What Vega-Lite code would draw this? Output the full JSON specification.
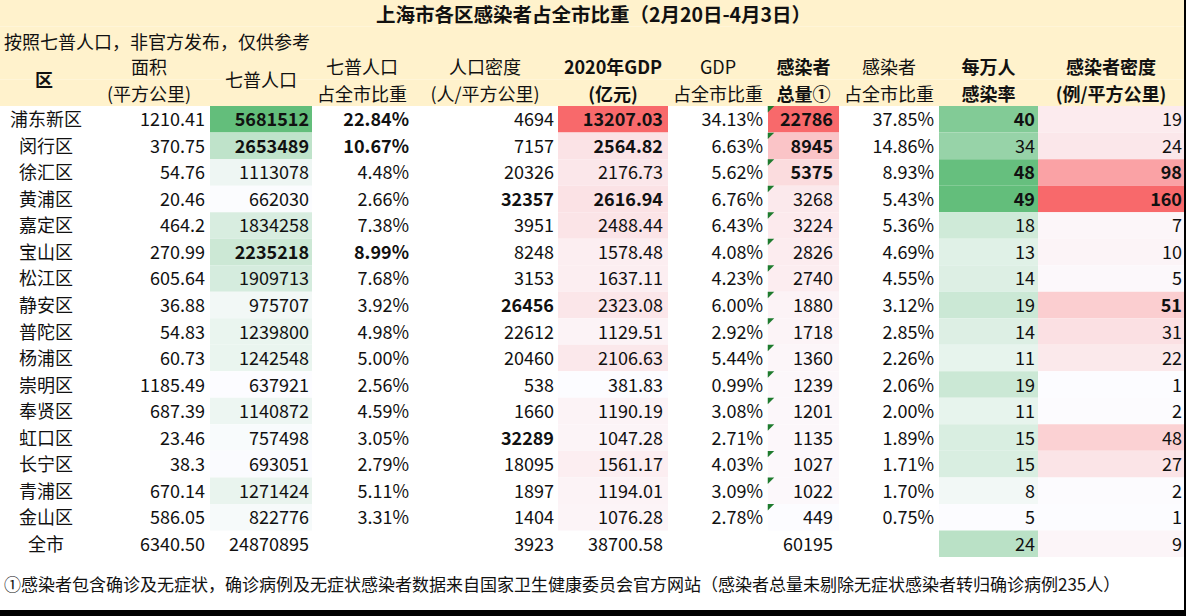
{
"$schema": "https://vega.github.io/schema/vega-lite/v6.json",
"background": "black",
"padding": {"left": 0, "top": 0, "right": 2, "bottom": 6},
"spacing": 0,
"bounds": "flush",
"resolve": {"scale": {"color": "independent", "y": "independent"}},
"config": {"view": {"stroke": null, "fill": "white"}, "text": {"font": "Noto Sans CJK SC", "fontSize": 18, "color": "#111"}},
"datasets": {
"d": [
{"区":"浦东新区","级别":"区","面积":"1210.41","七普人口":5681512,"七普占比":0.2284,"人口密度":4694,"GDP":13207.03,"GDP占比":0.3413,"感染者":22786,"感染者占比":0.3785,"每万人感染率":40,"感染者密度":19},
{"区":"闵行区","级别":"区","面积":"370.75","七普人口":2653489,"七普占比":0.1067,"人口密度":7157,"GDP":2564.82,"GDP占比":0.0663,"感染者":8945,"感染者占比":0.1486,"每万人感染率":34,"感染者密度":24},
{"区":"徐汇区","级别":"区","面积":"54.76","七普人口":1113078,"七普占比":0.0448,"人口密度":20326,"GDP":2176.73,"GDP占比":0.0562,"感染者":5375,"感染者占比":0.0893,"每万人感染率":48,"感染者密度":98},
{"区":"黄浦区","级别":"区","面积":"20.46","七普人口":662030,"七普占比":0.0266,"人口密度":32357,"GDP":2616.94,"GDP占比":0.0676,"感染者":3268,"感染者占比":0.0543,"每万人感染率":49,"感染者密度":160},
{"区":"嘉定区","级别":"区","面积":"464.2","七普人口":1834258,"七普占比":0.0738,"人口密度":3951,"GDP":2488.44,"GDP占比":0.0643,"感染者":3224,"感染者占比":0.0536,"每万人感染率":18,"感染者密度":7},
{"区":"宝山区","级别":"区","面积":"270.99","七普人口":2235218,"七普占比":0.0899,"人口密度":8248,"GDP":1578.48,"GDP占比":0.0408,"感染者":2826,"感染者占比":0.0469,"每万人感染率":13,"感染者密度":10},
{"区":"松江区","级别":"区","面积":"605.64","七普人口":1909713,"七普占比":0.0768,"人口密度":3153,"GDP":1637.11,"GDP占比":0.0423,"感染者":2740,"感染者占比":0.0455,"每万人感染率":14,"感染者密度":5},
{"区":"静安区","级别":"区","面积":"36.88","七普人口":975707,"七普占比":0.0392,"人口密度":26456,"GDP":2323.08,"GDP占比":0.0600,"感染者":1880,"感染者占比":0.0312,"每万人感染率":19,"感染者密度":51},
{"区":"普陀区","级别":"区","面积":"54.83","七普人口":1239800,"七普占比":0.0498,"人口密度":22612,"GDP":1129.51,"GDP占比":0.0292,"感染者":1718,"感染者占比":0.0285,"每万人感染率":14,"感染者密度":31},
{"区":"杨浦区","级别":"区","面积":"60.73","七普人口":1242548,"七普占比":0.0500,"人口密度":20460,"GDP":2106.63,"GDP占比":0.0544,"感染者":1360,"感染者占比":0.0226,"每万人感染率":11,"感染者密度":22},
{"区":"崇明区","级别":"区","面积":"1185.49","七普人口":637921,"七普占比":0.0256,"人口密度":538,"GDP":381.83,"GDP占比":0.0099,"感染者":1239,"感染者占比":0.0206,"每万人感染率":19,"感染者密度":1},
{"区":"奉贤区","级别":"区","面积":"687.39","七普人口":1140872,"七普占比":0.0459,"人口密度":1660,"GDP":1190.19,"GDP占比":0.0308,"感染者":1201,"感染者占比":0.0200,"每万人感染率":11,"感染者密度":2},
{"区":"虹口区","级别":"区","面积":"23.46","七普人口":757498,"七普占比":0.0305,"人口密度":32289,"GDP":1047.28,"GDP占比":0.0271,"感染者":1135,"感染者占比":0.0189,"每万人感染率":15,"感染者密度":48},
{"区":"长宁区","级别":"区","面积":"38.3","七普人口":693051,"七普占比":0.0279,"人口密度":18095,"GDP":1561.17,"GDP占比":0.0403,"感染者":1027,"感染者占比":0.0171,"每万人感染率":15,"感染者密度":27},
{"区":"青浦区","级别":"区","面积":"670.14","七普人口":1271424,"七普占比":0.0511,"人口密度":1897,"GDP":1194.01,"GDP占比":0.0309,"感染者":1022,"感染者占比":0.0170,"每万人感染率":8,"感染者密度":2},
{"区":"金山区","级别":"区","面积":"586.05","七普人口":822776,"七普占比":0.0331,"人口密度":1404,"GDP":1076.28,"GDP占比":0.0278,"感染者":449,"感染者占比":0.0075,"每万人感染率":5,"感染者密度":1},
{"区":"全市","级别":"市","面积":"6340.50","七普人口":24870895,"七普占比":null,"人口密度":3923,"GDP":38700.58,"GDP占比":null,"感染者":60195,"感染者占比":null,"每万人感染率":24,"感染者密度":9}
],
"hrows": [{"行":"t"},{"行":"s"},{"行":"h1"},{"行":"h2"}]
},
"hconcat": [
{"width": 88, "height": 610, "layer": [
 {"data":{"name":"hrows"},"mark":{"type":"rect","fill":"#FFF2CC"},"encoding":{"y":{"field":"行","type":"nominal","scale":{"domain":["t","s","h1","h2","浦东新区","闵行区","徐汇区","黄浦区","嘉定区","宝山区","松江区","静安区","普陀区","杨浦区","崇明区","奉贤区","虹口区","长宁区","青浦区","金山区","全市","f1","f2"],"paddingInner":0,"paddingOuter":0},"axis":null}}},
 {"data":{"values":[{"行":"h2","文本":"区"}]},"mark":{"type":"text","fontWeight":"bold","dy":-11},"encoding":{"y":{"field":"行","type":"nominal","axis":null},"text":{"field":"文本"}}},
 {"data":{"name":"d"},"mark":{"type":"text","dx":2,"dy":2},"encoding":{"y":{"field":"区","type":"nominal","axis":null},"text":{"field":"区"}}}
]},
{"width": 122, "height": 610, "layer": [
 {"data":{"name":"hrows"},"mark":{"type":"rect","fill":"#FFF2CC"},"encoding":{"y":{"field":"行","type":"nominal","scale":{"domain":["t","s","h1","h2","浦东新区","闵行区","徐汇区","黄浦区","嘉定区","宝山区","松江区","静安区","普陀区","杨浦区","崇明区","奉贤区","虹口区","长宁区","青浦区","金山区","全市","f1","f2"],"paddingInner":0,"paddingOuter":0},"axis":null}}},
 {"data":{"values":[{"行":"h1","文本":"面积"},{"行":"h2","文本":"(平方公里)"}]},"mark":{"type":"text","dy":3},"encoding":{"y":{"field":"行","type":"nominal","axis":null},"text":{"field":"文本"}}},
 {"data":{"name":"d"},"mark":{"type":"text","align":"right","dx":56,"dy":2},"encoding":{"y":{"field":"区","type":"nominal","axis":null},"text":{"field":"面积","type":"nominal"}}}
]},
{"width": 102, "height": 610, "layer": [
 {"data":{"name":"hrows"},"mark":{"type":"rect","fill":"#FFF2CC"},"encoding":{"y":{"field":"行","type":"nominal","scale":{"domain":["t","s","h1","h2","浦东新区","闵行区","徐汇区","黄浦区","嘉定区","宝山区","松江区","静安区","普陀区","杨浦区","崇明区","奉贤区","虹口区","长宁区","青浦区","金山区","全市","f1","f2"],"paddingInner":0,"paddingOuter":0},"axis":null}}},
 {"data":{"name":"d"},"transform":[{"filter":"datum.级别 == '区'"}],"mark":{"type":"rect"},"encoding":{"y":{"field":"区","type":"nominal","axis":null},"color":{"field":"七普人口","type":"quantitative","scale":{"range":["#FCFCFF","#63BE7B"],"interpolate":"rgb"},"legend":null}}},
 {"data":{"values":[{"行":"h2","文本":"七普人口"}]},"mark":{"type":"text","dy":-11},"encoding":{"y":{"field":"行","type":"nominal","axis":null},"text":{"field":"文本"}}},
 {"data":{"name":"d"},"transform":[{"window":[{"op":"rank","as":"rk"}],"sort":[{"field":"七普人口","order":"descending"}],"groupby":["级别"]},{"filter":"!(datum.级别 == '区' && datum.rk <= 3)"}],"mark":{"type":"text","align":"right","dx":48,"dy":2},"encoding":{"y":{"field":"区","type":"nominal","axis":null},"text":{"field":"七普人口","type":"quantitative","format":"d"}}},
 {"data":{"name":"d"},"transform":[{"window":[{"op":"rank","as":"rk"}],"sort":[{"field":"七普人口","order":"descending"}],"groupby":["级别"]},{"filter":"datum.级别 == '区' && datum.rk <= 3"}],"mark":{"type":"text","align":"right","dx":48,"dy":2,"fontWeight":"bold"},"encoding":{"y":{"field":"区","type":"nominal","axis":null},"text":{"field":"七普人口","type":"quantitative","format":"d"}}}
]},
{"width": 100, "height": 610, "layer": [
 {"data":{"name":"hrows"},"mark":{"type":"rect","fill":"#FFF2CC"},"encoding":{"y":{"field":"行","type":"nominal","scale":{"domain":["t","s","h1","h2","浦东新区","闵行区","徐汇区","黄浦区","嘉定区","宝山区","松江区","静安区","普陀区","杨浦区","崇明区","奉贤区","虹口区","长宁区","青浦区","金山区","全市","f1","f2"],"paddingInner":0,"paddingOuter":0},"axis":null}}},
 {"data":{"values":[{"行":"h1","文本":"七普人口"},{"行":"h2","文本":"占全市比重"}]},"mark":{"type":"text","dy":3},"encoding":{"y":{"field":"行","type":"nominal","axis":null},"text":{"field":"文本"}}},
 {"data":{"values":[{"行":"s","文本":"按照七普人口，非官方发布，仅供参考"}]},"mark":{"type":"text","align":"left","dx":-358,"dy":4},"encoding":{"y":{"field":"行","type":"nominal","axis":null},"text":{"field":"文本"}}},
 {"data":{"name":"d"},"transform":[{"filter":"datum.七普占比 != null"},{"window":[{"op":"rank","as":"rk"}],"sort":[{"field":"七普占比","order":"descending"}],"groupby":["级别"]},{"filter":"!(datum.级别 == '区' && datum.rk <= 3)"}],"mark":{"type":"text","align":"right","dx":47,"dy":2},"encoding":{"y":{"field":"区","type":"nominal","axis":null},"text":{"field":"七普占比","type":"quantitative","format":".2%"}}},
 {"data":{"name":"d"},"transform":[{"filter":"datum.七普占比 != null"},{"window":[{"op":"rank","as":"rk"}],"sort":[{"field":"七普占比","order":"descending"}],"groupby":["级别"]},{"filter":"datum.级别 == '区' && datum.rk <= 3"}],"mark":{"type":"text","align":"right","dx":47,"dy":2,"fontWeight":"bold"},"encoding":{"y":{"field":"区","type":"nominal","axis":null},"text":{"field":"七普占比","type":"quantitative","format":".2%"}}}
]},
{"width": 146, "height": 610, "layer": [
 {"data":{"name":"hrows"},"mark":{"type":"rect","fill":"#FFF2CC"},"encoding":{"y":{"field":"行","type":"nominal","scale":{"domain":["t","s","h1","h2","浦东新区","闵行区","徐汇区","黄浦区","嘉定区","宝山区","松江区","静安区","普陀区","杨浦区","崇明区","奉贤区","虹口区","长宁区","青浦区","金山区","全市","f1","f2"],"paddingInner":0,"paddingOuter":0},"axis":null}}},
 {"data":{"values":[{"行":"h1","文本":"人口密度"},{"行":"h2","文本":"(人/平方公里)"}]},"mark":{"type":"text","dy":3},"encoding":{"y":{"field":"行","type":"nominal","axis":null},"text":{"field":"文本"}}},
 {"data":{"name":"d"},"transform":[{"window":[{"op":"rank","as":"rk"}],"sort":[{"field":"人口密度","order":"descending"}],"groupby":["级别"]},{"filter":"!(datum.级别 == '区' && datum.rk <= 3)"}],"mark":{"type":"text","align":"right","dx":69,"dy":2},"encoding":{"y":{"field":"区","type":"nominal","axis":null},"text":{"field":"人口密度","type":"quantitative","format":"d"}}},
 {"data":{"name":"d"},"transform":[{"window":[{"op":"rank","as":"rk"}],"sort":[{"field":"人口密度","order":"descending"}],"groupby":["级别"]},{"filter":"datum.级别 == '区' && datum.rk <= 3"}],"mark":{"type":"text","align":"right","dx":69,"dy":2,"fontWeight":"bold"},"encoding":{"y":{"field":"区","type":"nominal","axis":null},"text":{"field":"人口密度","type":"quantitative","format":"d"}}}
]},
{"width": 110, "height": 610, "layer": [
 {"data":{"name":"hrows"},"mark":{"type":"rect","fill":"#FFF2CC"},"encoding":{"y":{"field":"行","type":"nominal","scale":{"domain":["t","s","h1","h2","浦东新区","闵行区","徐汇区","黄浦区","嘉定区","宝山区","松江区","静安区","普陀区","杨浦区","崇明区","奉贤区","虹口区","长宁区","青浦区","金山区","全市","f1","f2"],"paddingInner":0,"paddingOuter":0},"axis":null}}},
 {"data":{"name":"d"},"transform":[{"filter":"datum.级别 == '区'"}],"mark":{"type":"rect"},"encoding":{"y":{"field":"区","type":"nominal","axis":null},"color":{"field":"GDP","type":"quantitative","scale":{"range":["#FCFCFF","#F8696B"],"interpolate":"rgb"},"legend":null}}},
 {"data":{"values":[{"行":"h1","文本":"2020年GDP"},{"行":"h2","文本":"(亿元)"}]},"mark":{"type":"text","dy":3,"fontWeight":"bold"},"encoding":{"y":{"field":"行","type":"nominal","axis":null},"text":{"field":"文本"}}},
 {"data":{"name":"d"},"transform":[{"window":[{"op":"rank","as":"rk"}],"sort":[{"field":"GDP","order":"descending"}],"groupby":["级别"]},{"filter":"!(datum.级别 == '区' && datum.rk <= 3)"}],"mark":{"type":"text","align":"right","dx":50,"dy":2},"encoding":{"y":{"field":"区","type":"nominal","axis":null},"text":{"field":"GDP","type":"quantitative","format":".2f"}}},
 {"data":{"name":"d"},"transform":[{"window":[{"op":"rank","as":"rk"}],"sort":[{"field":"GDP","order":"descending"}],"groupby":["级别"]},{"filter":"datum.级别 == '区' && datum.rk <= 3"}],"mark":{"type":"text","align":"right","dx":50,"dy":2,"fontWeight":"bold"},"encoding":{"y":{"field":"区","type":"nominal","axis":null},"text":{"field":"GDP","type":"quantitative","format":".2f"}}}
]},
{"width": 100, "height": 610, "layer": [
 {"data":{"name":"hrows"},"mark":{"type":"rect","fill":"#FFF2CC"},"encoding":{"y":{"field":"行","type":"nominal","scale":{"domain":["t","s","h1","h2","浦东新区","闵行区","徐汇区","黄浦区","嘉定区","宝山区","松江区","静安区","普陀区","杨浦区","崇明区","奉贤区","虹口区","长宁区","青浦区","金山区","全市","f1","f2"],"paddingInner":0,"paddingOuter":0},"axis":null}}},
 {"data":{"values":[{"行":"h1","文本":"GDP"},{"行":"h2","文本":"占全市比重"}]},"mark":{"type":"text","dy":3},"encoding":{"y":{"field":"行","type":"nominal","axis":null},"text":{"field":"文本"}}},
 {"data":{"name":"d"},"transform":[{"filter":"datum.GDP占比 != null"}],"mark":{"type":"text","align":"right","dx":45,"dy":2},"encoding":{"y":{"field":"区","type":"nominal","axis":null},"text":{"field":"GDP占比","type":"quantitative","format":".2%"}}}
]},
{"width": 71, "height": 610, "layer": [
 {"data":{"name":"hrows"},"mark":{"type":"rect","fill":"#FFF2CC"},"encoding":{"y":{"field":"行","type":"nominal","scale":{"domain":["t","s","h1","h2","浦东新区","闵行区","徐汇区","黄浦区","嘉定区","宝山区","松江区","静安区","普陀区","杨浦区","崇明区","奉贤区","虹口区","长宁区","青浦区","金山区","全市","f1","f2"],"paddingInner":0,"paddingOuter":0},"axis":null}}},
 {"data":{"name":"d"},"transform":[{"filter":"datum.级别 == '区'"}],"mark":{"type":"rect"},"encoding":{"y":{"field":"区","type":"nominal","axis":null},"color":{"field":"感染者","type":"quantitative","scale":{"range":["#FCFCFF","#F8696B"],"interpolate":"rgb"},"legend":null}}},
 {"data":{"name":"d"},"transform":[{"filter":"datum.级别 == '区'"}],"mark":{"type":"point","shape":"M -1 -1 L 1 -1 L -1 1 Z","size":42,"filled":true,"opacity":1,"color":"#1E7B2E","strokeWidth":0,"xOffset":-32.5,"yOffset":-10},"encoding":{"y":{"field":"区","type":"nominal","axis":null}}},
 {"data":{"values":[{"行":"h1","文本":"感染者"},{"行":"h2","文本":"总量①"}]},"mark":{"type":"text","dy":3,"fontWeight":"bold"},"encoding":{"y":{"field":"行","type":"nominal","axis":null},"text":{"field":"文本"}}},
 {"data":{"values":[{"行":"t","文本":"上海市各区感染者占全市比重（2月20日-4月3日）"}]},"mark":{"type":"text","dx":-210,"dy":3,"fontWeight":"bold","fontSize":19.5},"encoding":{"y":{"field":"行","type":"nominal","axis":null},"text":{"field":"文本"}}},
 {"data":{"name":"d"},"transform":[{"window":[{"op":"rank","as":"rk"}],"sort":[{"field":"感染者","order":"descending"}],"groupby":["级别"]},{"filter":"!(datum.级别 == '区' && datum.rk <= 3)"}],"mark":{"type":"text","align":"right","dx":29.5,"dy":2},"encoding":{"y":{"field":"区","type":"nominal","axis":null},"text":{"field":"感染者","type":"quantitative","format":"d"}}},
 {"data":{"name":"d"},"transform":[{"window":[{"op":"rank","as":"rk"}],"sort":[{"field":"感染者","order":"descending"}],"groupby":["级别"]},{"filter":"datum.级别 == '区' && datum.rk <= 3"}],"mark":{"type":"text","align":"right","dx":29.5,"dy":2,"fontWeight":"bold"},"encoding":{"y":{"field":"区","type":"nominal","axis":null},"text":{"field":"感染者","type":"quantitative","format":"d"}}}
]},
{"width": 100, "height": 610, "layer": [
 {"data":{"name":"hrows"},"mark":{"type":"rect","fill":"#FFF2CC"},"encoding":{"y":{"field":"行","type":"nominal","scale":{"domain":["t","s","h1","h2","浦东新区","闵行区","徐汇区","黄浦区","嘉定区","宝山区","松江区","静安区","普陀区","杨浦区","崇明区","奉贤区","虹口区","长宁区","青浦区","金山区","全市","f1","f2"],"paddingInner":0,"paddingOuter":0},"axis":null}}},
 {"data":{"values":[{"行":"h1","文本":"感染者"},{"行":"h2","文本":"占全市比重"}]},"mark":{"type":"text","dy":3},"encoding":{"y":{"field":"行","type":"nominal","axis":null},"text":{"field":"文本"}}},
 {"data":{"name":"d"},"transform":[{"filter":"datum.感染者占比 != null"}],"mark":{"type":"text","align":"right","dx":45,"dy":2},"encoding":{"y":{"field":"区","type":"nominal","axis":null},"text":{"field":"感染者占比","type":"quantitative","format":".2%"}}}
]},
{"width": 99, "height": 610, "layer": [
 {"data":{"name":"hrows"},"mark":{"type":"rect","fill":"#FFF2CC"},"encoding":{"y":{"field":"行","type":"nominal","scale":{"domain":["t","s","h1","h2","浦东新区","闵行区","徐汇区","黄浦区","嘉定区","宝山区","松江区","静安区","普陀区","杨浦区","崇明区","奉贤区","虹口区","长宁区","青浦区","金山区","全市","f1","f2"],"paddingInner":0,"paddingOuter":0},"axis":null}}},
 {"data":{"name":"d"},"mark":{"type":"rect"},"encoding":{"y":{"field":"区","type":"nominal","axis":null},"color":{"field":"每万人感染率","type":"quantitative","scale":{"range":["#FCFCFF","#63BE7B"],"interpolate":"rgb"},"legend":null}}},
 {"data":{"values":[{"行":"h1","文本":"每万人"},{"行":"h2","文本":"感染率"}]},"mark":{"type":"text","dy":3,"fontWeight":"bold"},"encoding":{"y":{"field":"行","type":"nominal","axis":null},"text":{"field":"文本"}}},
 {"data":{"name":"d"},"transform":[{"window":[{"op":"rank","as":"rk"}],"sort":[{"field":"每万人感染率","order":"descending"}],"groupby":["级别"]},{"filter":"!(datum.级别 == '区' && datum.rk <= 3)"}],"mark":{"type":"text","align":"right","dx":46.5,"dy":2},"encoding":{"y":{"field":"区","type":"nominal","axis":null},"text":{"field":"每万人感染率","type":"quantitative","format":"d"}}},
 {"data":{"name":"d"},"transform":[{"window":[{"op":"rank","as":"rk"}],"sort":[{"field":"每万人感染率","order":"descending"}],"groupby":["级别"]},{"filter":"datum.级别 == '区' && datum.rk <= 3"}],"mark":{"type":"text","align":"right","dx":46.5,"dy":2,"fontWeight":"bold"},"encoding":{"y":{"field":"区","type":"nominal","axis":null},"text":{"field":"每万人感染率","type":"quantitative","format":"d"}}}
]},
{"width": 146, "height": 610, "layer": [
 {"data":{"name":"hrows"},"mark":{"type":"rect","fill":"#FFF2CC"},"encoding":{"y":{"field":"行","type":"nominal","scale":{"domain":["t","s","h1","h2","浦东新区","闵行区","徐汇区","黄浦区","嘉定区","宝山区","松江区","静安区","普陀区","杨浦区","崇明区","奉贤区","虹口区","长宁区","青浦区","金山区","全市","f1","f2"],"paddingInner":0,"paddingOuter":0},"axis":null}}},
 {"data":{"name":"d"},"mark":{"type":"rect"},"encoding":{"y":{"field":"区","type":"nominal","axis":null},"color":{"field":"感染者密度","type":"quantitative","scale":{"range":["#FCFCFF","#F8696B"],"interpolate":"rgb"},"legend":null}}},
 {"data":{"values":[{"行":"h1","文本":"感染者密度"},{"行":"h2","文本":"(例/平方公里)"}]},"mark":{"type":"text","dy":3,"fontWeight":"bold"},"encoding":{"y":{"field":"行","type":"nominal","axis":null},"text":{"field":"文本"}}},
 {"data":{"values":[{"行":"f1","文本":"①感染者包含确诊及无症状，确诊病例及无症状感染者数据来自国家卫生健康委员会官方网站（感染者总量未剔除无症状感染者转归确诊病例235人）"}]},"mark":{"type":"text","align":"left","dx":-1107,"dy":16,"fontSize":17},"encoding":{"y":{"field":"行","type":"nominal","axis":null},"text":{"field":"文本"}}},
 {"data":{"name":"d"},"transform":[{"window":[{"op":"rank","as":"rk"}],"sort":[{"field":"感染者密度","order":"descending"}],"groupby":["级别"]},{"filter":"!(datum.级别 == '区' && datum.rk <= 3)"}],"mark":{"type":"text","align":"right","dx":71,"dy":2},"encoding":{"y":{"field":"区","type":"nominal","axis":null},"text":{"field":"感染者密度","type":"quantitative","format":"d"}}},
 {"data":{"name":"d"},"transform":[{"window":[{"op":"rank","as":"rk"}],"sort":[{"field":"感染者密度","order":"descending"}],"groupby":["级别"]},{"filter":"datum.级别 == '区' && datum.rk <= 3"}],"mark":{"type":"text","align":"right","dx":71,"dy":2,"fontWeight":"bold"},"encoding":{"y":{"field":"区","type":"nominal","axis":null},"text":{"field":"感染者密度","type":"quantitative","format":"d"}}}
]}
]
}
